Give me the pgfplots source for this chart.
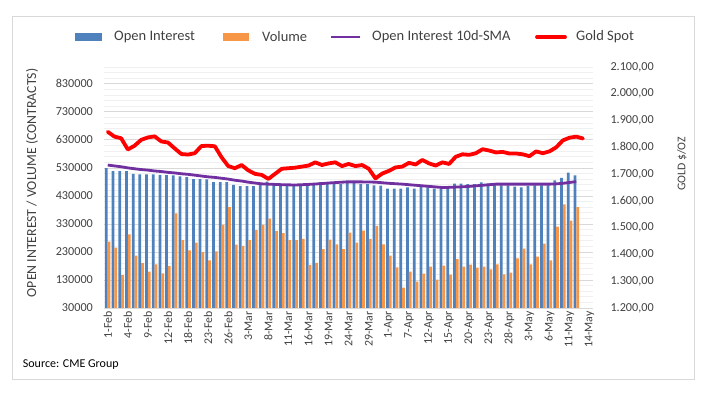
\documentclass[border=0pt]{standalone}
\usepackage{pgfplots}
\pgfplotsset{compat=1.18}
\usepackage{pgfplotstable}
\usepackage{fontspec}
\setmainfont{Carlito}
\definecolor{oiblue}{RGB}{79,129,189}
\definecolor{volorange}{RGB}{247,150,70}
\definecolor{smapurple}{RGB}{112,48,160}
\definecolor{goldred}{RGB}{255,0,0}
\definecolor{txtgray}{RGB}{64,64,64}
\definecolor{gridmaj}{RGB}{217,217,217}
\definecolor{gridmin}{RGB}{240,240,240}

\pgfplotstableread{
i oi vol sma
0 529000 267000 540000
1 518000 245000 537000
2 518000 147000 534000
3 518000 293000 530000
4 509000 217000 527000
5 507000 190000 524000
6 507000 160000 522000
7 507000 186000 519000
8 505000 154000 517000
9 504000 179000 514000
10 503000 368000 512000
11 500000 272000 509000
12 497000 236000 507000
13 490000 263000 504000
14 490000 229000 501000
15 489000 200000 498000
16 479000 232000 496000
17 479000 327000 493000
18 479000 390000 490000
19 469000 256000 486000
20 465000 252000 483000
21 465000 272000 479000
22 465000 308000 476000
23 472000 327000 473000
24 481000 349000 472000
25 472000 304000 471000
26 472000 297000 470000
27 472000 272000 469500
28 468000 272000 469000
29 466000 277000 470000
30 472000 184000 471000
31 472000 191000 472500
32 479000 240000 474000
33 472000 274000 476000
34 472000 257000 477500
35 472000 240000 479000
36 485000 299000 480000
37 481000 263000 480000
38 472000 306000 480000
39 472000 277000 479500
40 468000 323000 479000
41 467000 257000 477000
42 456000 217000 475000
43 456000 175000 473500
44 456000 103000 472000
45 460000 160000 470000
46 456000 124000 468000
47 466000 153000 466000
48 460000 178000 464000
49 456000 131000 462000
50 456000 181000 460000
51 456000 149000 460500
52 474000 204000 461500
53 474000 178000 462500
54 472000 185000 464000
55 472000 174000 466000
56 478000 178000 468000
57 474000 168000 470000
58 470000 186000 472000
59 468000 150000 472000
60 468000 156000 472000
61 463000 207000 472000
62 460000 242000 472000
63 466000 186000 472000
64 468000 213000 472000
65 468000 260000 472000
66 468000 200000 472000
67 485000 320000 473000
68 494000 400000 475000
69 513000 342000 478000
70 503000 390000 481000
}\oitable

\pgfplotstableread{
i gold
0 1858
1 1840
2 1834
3 1792
4 1806
5 1828
6 1837
7 1841
8 1822
9 1818
10 1796
11 1775
12 1773
13 1778
14 1805
15 1806
16 1804
17 1763
18 1730
19 1722
20 1734
21 1714
22 1701
23 1697
24 1682
25 1701
26 1720
27 1722
28 1724
29 1728
30 1732
31 1744
32 1734
33 1740
34 1744
35 1730
36 1738
37 1730
38 1734
39 1720
40 1684
41 1702
42 1712
43 1725
44 1728
45 1742
46 1736
47 1753
48 1740
49 1732
50 1744
51 1738
52 1765
53 1774
54 1772
55 1778
56 1793
57 1788
58 1781
59 1783
60 1777
61 1777
62 1774
63 1767
64 1785
65 1778
66 1785
67 1800
68 1826
69 1836
70 1840
71 1833
}\goldtable

\begin{document}
\begin{tikzpicture}
\path[use as bounding box] (0,0) rectangle (711bp,394bp);
\draw[gridmaj, line width=0.75bp] (12bp,15bp) rectangle (694bp,378bp);

\begin{axis}[
  at={(104.4bp,86bp)}, anchor=south west,
  scale only axis, width=488.6bp, height=241bp,
  xmin=-0.5, xmax=72.5, ymin=30000, ymax=890000,
  axis x line*=bottom, axis y line*=left,
  x axis line style={gridmaj, line width=0.75bp},
  y axis line style={draw=none},
  major tick length=0, minor tick length=0,
  xtick={0,3,...,72},
  xticklabels={1-Feb,4-Feb,9-Feb,12-Feb,18-Feb,23-Feb,26-Feb,3-Mar,8-Mar,11-Mar,16-Mar,19-Mar,24-Mar,29-Mar,1-Apr,7-Apr,12-Apr,15-Apr,20-Apr,23-Apr,28-Apr,3-May,6-May,11-May,14-May},
  xticklabel style={rotate=90, anchor=east, font=\fontsize{11.8bp}{13bp}\selectfont, text=txtgray},
  ytick={30000,130000,230000,330000,430000,530000,630000,730000,830000},
  minor ytick={50000,70000,90000,110000,150000,170000,190000,210000,250000,270000,290000,310000,350000,370000,390000,410000,450000,470000,490000,510000,550000,570000,590000,610000,650000,670000,690000,710000,750000,770000,790000,810000,850000,870000,890000},
  ymajorgrids, yminorgrids,
  major grid style={gridmaj, line width=0.75bp},
  minor grid style={gridmin, line width=0.75bp},
  scaled y ticks=false,
  yticklabel style={/pgf/number format/.cd, fixed, 1000 sep={}, assume math mode=true, /tikz/.cd, font=\fontsize{12.2bp}{14bp}\selectfont, text=txtgray, xshift=-8bp},
  clip=true,
]
\addplot[ybar, bar width=2.75bp, bar shift=-1.375bp, fill=oiblue, draw=none] table[x=i,y=oi]{\oitable};
\addplot[ybar, bar width=2.75bp, bar shift=1.375bp, fill=volorange, draw=none] table[x=i,y=vol]{\oitable};
\addplot[smapurple, line width=2.8bp, smooth, no markers] table[x=i,y=sma]{\oitable};
\end{axis}

\begin{axis}[
  at={(104.4bp,86bp)}, anchor=south west,
  scale only axis, width=488.6bp, height=241bp,
  xmin=-0.5, xmax=72.5, ymin=1200, ymax=2100,
  axis x line=none, axis y line*=right,
  y axis line style={draw=none},
  major tick length=0,
  ytick={1200,1300,1400,1500,1600,1700,1800,1900,2000,2100},
  yticklabel style={/pgf/number format/.cd, fixed, fixed zerofill, precision=2, use comma, 1000 sep={.}, assume math mode=true, /tikz/.cd, font=\fontsize{12.2bp}{14bp}\selectfont, text=txtgray, xshift=14bp},
]
\addplot[goldred, line width=3.8bp, line join=round, line cap=round, no markers] table[x=i,y=gold]{\goldtable};
\end{axis}

% axis titles
\node[rotate=90, text=txtgray, font=\fontsize{13.8bp}{16bp}\selectfont] at (32bp,211bp) {OPEN INTEREST / VOLUME (CONTRACTS)};
\node[rotate=90, text=txtgray, font=\fontsize{11.8bp}{14bp}\selectfont] at (682bp,230bp) {GOLD \$/OZ};

% legend
\fill[oiblue] (75bp,353bp) rectangle (102bp,361bp);
\node[anchor=west, inner sep=0pt, text=txtgray, font=\fontsize{14.5bp}{17bp}\selectfont] at (114bp,357bp) {Open Interest};
\fill[volorange] (223bp,353bp) rectangle (249bp,361bp);
\node[anchor=west, inner sep=0pt, text=txtgray, font=\fontsize{14.5bp}{17bp}\selectfont] at (262bp,357bp) {Volume};
\draw[smapurple, line width=2.8bp] (331bp,357bp) -- (360bp,357bp);
\node[anchor=west, inner sep=0pt, text=txtgray, font=\fontsize{14.5bp}{17bp}\selectfont] at (372bp,357bp) {Open Interest 10d-SMA};
\draw[goldred, line width=3.8bp, line cap=round] (537bp,357bp) -- (565bp,357bp);
\node[anchor=west, inner sep=0pt, text=txtgray, font=\fontsize{14.5bp}{17bp}\selectfont] at (576bp,357bp) {Gold Spot};

% source
\node[anchor=west, inner sep=0pt, text=black, font=\fontsize{12bp}{14bp}\selectfont] at (22.7bp,29bp) {Source: CME Group};
\end{tikzpicture}
\end{document}
